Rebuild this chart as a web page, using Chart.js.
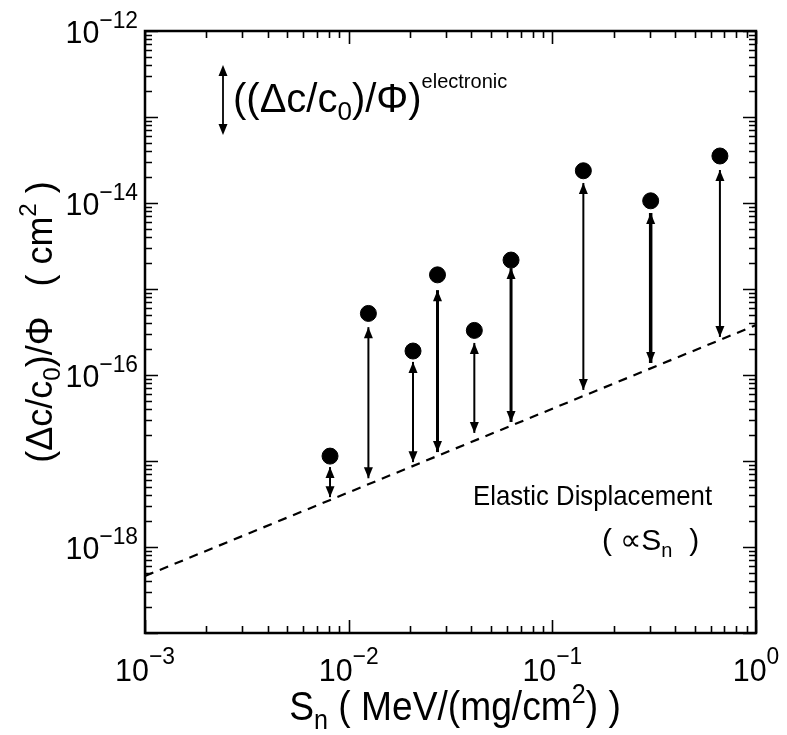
<!DOCTYPE html>
<html><head><meta charset="utf-8">
<script src="https://cdn.jsdelivr.net/npm/chart.js@4/dist/chart.umd.min.js"></script>
<style>html,body{margin:0;padding:0;background:#fff}</style>
</head><body>
<canvas id="c" width="787" height="735"></canvas>
<script>
// ---- data ----
const stoppingPower = [8.1e-3, 0.0125, 0.0207, 0.0273, 0.0414, 0.0627, 0.142, 0.304, 0.665];   // S_n
const totalSignal   = [1.14e-17, 5.2e-16, 1.9e-16, 1.46e-15, 3.3e-16, 2.17e-15, 2.37e-14, 1.06e-14, 3.52e-14]; // dots
const electronicTop = [8.5e-18, 3.6e-16, 1.42e-16, 9.7e-16, 2.36e-16, 1.75e-15, 1.71e-14, 7.65e-15, 2.42e-14]; // arrow upper tips
const elasticBase   = [3.8e-18, 6.3e-18, 9.7e-18, 1.27e-17, 2.12e-17, 2.84e-17, 6.7e-17, 1.38e-16, 2.77e-16]; // arrow lower tips
const elasticLineX  = [1e-3, 1];
const elasticLineY  = [4.6e-19, 3.8e-16];
const xTickExps = [-3, -2, -1, 0];
const yTickExps = [-18, -16, -14, -12];
const xRange = [1e-3, 1];
const yRange = [1e-19, 1e-12];

// ---- styles ----
const arrowWidths = [2, 2, 2, 3, 2, 3, 2, 3.5, 2];
const FONT = '"Liberation Sans", Arial, Helvetica, sans-serif';

function partsWidth(ctx, parts) {
  let w = 0;
  for (const p of parts) { ctx.font = p.s + 'px ' + FONT; w += ctx.measureText(p.t).width; }
  return w;
}
function drawRich(ctx, parts, x, y, align, sx, rot) {
  ctx.save();
  ctx.translate(x, y);
  if (rot) ctx.rotate(rot);
  ctx.scale(sx || 1, 1);
  const w = partsWidth(ctx, parts);
  let cx = align === 'center' ? -w / 2 : (align === 'right' ? -w : 0);
  ctx.fillStyle = '#000';
  ctx.textBaseline = 'alphabetic';
  ctx.textAlign = 'left';
  for (const p of parts) {
    ctx.font = p.s + 'px ' + FONT;
    ctx.fillText(p.t, cx, p.dy || 0);
    cx += ctx.measureText(p.t).width;
  }
  ctx.restore();
}

const datasets = [];
datasets.push({
  type: 'line',
  data: elasticLineX.map((x, i) => ({ x, y: elasticLineY[i] })),
  borderColor: '#000', borderWidth: 2.2, borderDash: [9, 7],
  pointRadius: 0, fill: false
});
stoppingPower.forEach((x, i) => {
  datasets.push({
    type: 'line',
    data: [{ x, y: elasticBase[i] }, { x, y: electronicTop[i] }],
    borderColor: '#000', borderWidth: arrowWidths[i],
    pointRadius: 0, fill: false
  });
});
datasets.push({
  type: 'scatter',
  data: stoppingPower.map((x, i) => ({ x, y: totalSignal[i] })),
  backgroundColor: '#000', borderColor: '#000',
  pointRadius: 8, pointHoverRadius: 8
});

function head(ctx, x, y, dir) {
  // dir = -1 tip pointing up, +1 tip pointing down
  const L = 11, W = 4.5;
  ctx.beginPath();
  ctx.moveTo(x, y);
  ctx.lineTo(x - W, y - dir * L);
  ctx.lineTo(x + W, y - dir * L);
  ctx.closePath();
  ctx.fill();
}

const decorPlugin = {
  id: 'decor',
  afterDatasetsDraw(chart) {
    const ctx = chart.ctx, xs = chart.scales.x, ys = chart.scales.y;
    ctx.save();
    ctx.fillStyle = '#000';
    stoppingPower.forEach((v, i) => {
      const px = xs.getPixelForValue(v);
      head(ctx, px, ys.getPixelForValue(electronicTop[i]), -1);
      head(ctx, px, ys.getPixelForValue(elasticBase[i]), 1);
    });
    ctx.restore();
  },
  afterDraw(chart) {
    const ctx = chart.ctx, a = chart.chartArea, xs = chart.scales.x, ys = chart.scales.y;
    ctx.save();
    ctx.strokeStyle = '#000';
    ctx.lineWidth = 2.5;
    ctx.strokeRect(a.left, a.top, a.right - a.left, a.bottom - a.top);
    ctx.lineWidth = 1.6;
    ctx.beginPath();
    for (let e = Math.log10(xRange[0]); e <= Math.log10(xRange[1]); e++) {
      for (let m = 1; m <= 9; m++) {
        const v = m * Math.pow(10, e);
        if (v > xRange[1] * 1.0001) break;
        const px = Math.round(xs.getPixelForValue(v)) + 0.5;
        const L = m === 1 ? 13 : 7;
        ctx.moveTo(px, a.bottom); ctx.lineTo(px, a.bottom - L);
        ctx.moveTo(px, a.top); ctx.lineTo(px, a.top + L);
      }
    }
    for (let e = Math.log10(yRange[0]); e <= Math.log10(yRange[1]); e++) {
      for (let m = 1; m <= 9; m++) {
        const v = m * Math.pow(10, e);
        if (v > yRange[1] * 1.0001) break;
        const py = Math.round(ys.getPixelForValue(v)) + 0.5;
        const L = m === 1 ? 13 : 7;
        ctx.moveTo(a.left, py); ctx.lineTo(a.left + L, py);
        ctx.moveTo(a.right, py); ctx.lineTo(a.right - L, py);
      }
    }
    ctx.stroke();

    // tick labels
    xTickExps.forEach(e => {
      const px = xs.getPixelForValue(Math.pow(10, e));
      const sup = e === 0 ? '0' : '\u2212' + Math.abs(e);
      drawRich(ctx, [{ t: '10', s: 32 }, { t: sup, s: 24, dy: -17 }], px, 681, 'center', 0.95);
    });
    yTickExps.forEach(e => {
      const py = ys.getPixelForValue(Math.pow(10, e));
      drawRich(ctx, [{ t: '10', s: 32 }, { t: '\u2212' + Math.abs(e), s: 24, dy: -15 }], 138, py + 12, 'right', 0.95);
    });

    // axis titles
    drawRich(ctx, [
      { t: 'S', s: 40 }, { t: 'n', s: 27, dy: 9 }, { t: ' ( MeV/(mg/cm', s: 40 },
      { t: '2', s: 27, dy: -17 }, { t: ') )', s: 40 }
    ], 455, 720, 'center', 0.93);
    drawRich(ctx, [
      { t: '(\u0394c/c', s: 36 }, { t: '0', s: 24, dy: 8 }, { t: ')/\u03A6   ( cm', s: 36 },
      { t: '2', s: 24, dy: -16 }, { t: ' )', s: 36 }
    ], 52, 322, 'center', 1, -Math.PI / 2);

    // legend arrow + text
    ctx.lineWidth = 1.8;
    ctx.beginPath(); ctx.moveTo(223, 72); ctx.lineTo(223, 129); ctx.stroke();
    ctx.fillStyle = '#000';
    head(ctx, 223, 65, -1);
    head(ctx, 223, 135, 1);
    drawRich(ctx, [
      { t: '((\u0394c/c', s: 40 }, { t: '0', s: 26, dy: 8 }, { t: ')/\u03A6)', s: 40 },
      { t: 'electronic', s: 20, dy: -24 }
    ], 233, 112, 'left', 1.0);

    // annotation
    drawRich(ctx, [{ t: 'Elastic Displacement', s: 28 }], 473, 505, 'left', 0.92);
    drawRich(ctx, [{ t: '( \u221DS', s: 30 }, { t: 'n', s: 20, dy: 7 }, { t: '  )', s: 30 }], 602, 550, 'left', 1.0);
    ctx.restore();
  }
};

new Chart(document.getElementById('c'), {
  data: { datasets },
  options: {
    responsive: false,
    animation: false,
    devicePixelRatio: 1,
    layout: { padding: { left: 145, right: 31, top: 31, bottom: 102 } },
    plugins: { legend: { display: false }, tooltip: { enabled: false } },
    scales: {
      x: {
        type: 'logarithmic', min: xRange[0], max: xRange[1],
        ticks: { display: false }, grid: { display: false }, border: { display: false },
        afterFit(s) { s.height = 0; }
      },
      y: {
        type: 'logarithmic', min: yRange[0], max: yRange[1],
        ticks: { display: false }, grid: { display: false }, border: { display: false },
        afterFit(s) { s.width = 0; }
      }
    }
  },
  plugins: [decorPlugin]
});
</script>
</body></html>
